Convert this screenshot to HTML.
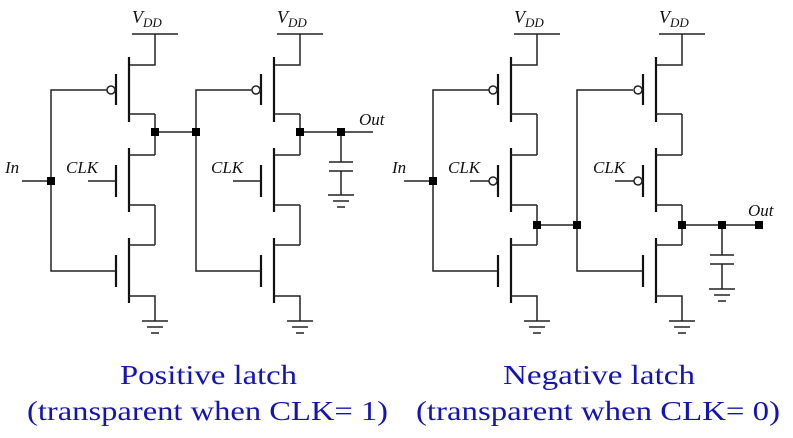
<!DOCTYPE html>
<html><head><meta charset="utf-8"><style>
html,body{margin:0;padding:0;background:#fff;}
svg{display:block;}
.w{stroke:#222;stroke-width:1.5;fill:none;}
.c{stroke:#111;stroke-width:2.2;fill:none;}
.lbl{font-family:"Liberation Serif",serif;font-style:italic;fill:#111;}
.cap{font-family:"Liberation Serif",serif;fill:#1414b4;font-size:27px;}
</style></head><body>
<svg width="793" height="438" viewBox="0 0 793 438" xmlns="http://www.w3.org/2000/svg">
<defs>
  <g id="top">
    <line class="w" x1="-23" y1="34" x2="23" y2="34"/>
    <polyline class="w" points="0,34 0,65 -26,65"/>
    <line class="c" x1="-26" y1="57" x2="-26" y2="122"/>
    <polyline class="w" points="-26,114 0,114"/>
    <line class="c" x1="-39" y1="74" x2="-39" y2="105"/>
    <circle class="w" cx="-44" cy="90" r="4" fill="#fff"/>
    <line class="c" x1="-26" y1="148" x2="-26" y2="212"/>
    <line class="w" x1="-26" y1="155" x2="0" y2="155"/>
    <line class="w" x1="-26" y1="205" x2="0" y2="205"/>
    <line class="c" x1="-39" y1="165" x2="-39" y2="197"/>
    <line class="c" x1="-26" y1="238" x2="-26" y2="303"/>
    <line class="w" x1="-26" y1="245" x2="0" y2="245"/>
    <polyline class="w" points="-26,296 0,296 0,321"/>
    <line class="c" x1="-39" y1="255" x2="-39" y2="287"/>
    <line class="w" x1="-13" y1="321" x2="13" y2="321"/>
    <line class="w" x1="-8" y1="327" x2="8" y2="327"/>
    <line class="w" x1="-4" y1="333" x2="4" y2="333"/>
  </g>
  <g id="posStage">
    <use href="#top"/>
    <line class="w" x1="0" y1="114" x2="0" y2="155"/>
    <line class="w" x1="0" y1="205" x2="0" y2="245"/>
    <line class="w" x1="-67" y1="181" x2="-39" y2="181"/>
  </g>
  <g id="negStage">
    <use href="#top"/>
    <line class="w" x1="0" y1="114" x2="0" y2="155"/>
    <line class="w" x1="0" y1="205" x2="0" y2="245"/>
    <line class="w" x1="-67" y1="181" x2="-48" y2="181"/>
    <circle class="w" cx="-44" cy="181" r="4" fill="#fff"/>
  </g>
  <g id="gnd">
    <line class="w" x1="-13" y1="0" x2="13" y2="0"/>
    <line class="w" x1="-8" y1="6" x2="8" y2="6"/>
    <line class="w" x1="-4" y1="12" x2="4" y2="12"/>
  </g>
</defs>

<use href="#posStage" x="155"/>
<use href="#posStage" x="300"/>
<line class="w" x1="22" y1="181" x2="51" y2="181"/>
<polyline class="w" points="107,90 51,90 51,271 116,271"/>
<line class="w" x1="155" y1="132" x2="196" y2="132"/>
<polyline class="w" points="252,90 196,90 196,271 261,271"/>
<line class="w" x1="300" y1="132" x2="373" y2="132"/>
<line class="w" x1="341" y1="132" x2="341" y2="162"/>
<line class="w" x1="329" y1="162" x2="353" y2="162"/>
<line class="w" x1="329" y1="171" x2="353" y2="171"/>
<line class="w" x1="341" y1="171" x2="341" y2="195"/>
<use href="#gnd" x="341" y="195"/>
<g fill="#000">
  <rect x="47" y="177" width="8" height="8"/>
  <rect x="151" y="128" width="8" height="8"/>
  <rect x="192" y="128" width="8" height="8"/>
  <rect x="296" y="128" width="8" height="8"/>
  <rect x="337" y="128" width="8" height="8"/>
</g>
<text class="lbl" x="132" y="23" font-size="18">V<tspan font-size="13" dy="4">DD</tspan></text>
<text class="lbl" x="277" y="23" font-size="18">V<tspan font-size="13" dy="4">DD</tspan></text>
<text class="lbl" x="5" y="173" font-size="17">In</text>
<text class="lbl" x="66" y="173" font-size="17">CLK</text>
<text class="lbl" x="211" y="173" font-size="17">CLK</text>
<text class="lbl" x="359" y="125" font-size="17">Out</text>

<use href="#negStage" x="537"/>
<use href="#negStage" x="682"/>
<line class="w" x1="404" y1="181" x2="433" y2="181"/>
<polyline class="w" points="489,90 433,90 433,271 498,271"/>
<line class="w" x1="537" y1="225" x2="577" y2="225"/>
<polyline class="w" points="633,90 577,90 577,271 643,271"/>
<line class="w" x1="682" y1="225" x2="759" y2="225"/>
<line class="w" x1="722" y1="225" x2="722" y2="255"/>
<line class="w" x1="710" y1="255" x2="734" y2="255"/>
<line class="w" x1="710" y1="264" x2="734" y2="264"/>
<line class="w" x1="722" y1="264" x2="722" y2="289"/>
<use href="#gnd" x="722" y="289"/>
<g fill="#000">
  <rect x="429" y="177" width="8" height="8"/>
  <rect x="533" y="221" width="8" height="8"/>
  <rect x="573" y="221" width="8" height="8"/>
  <rect x="678" y="221" width="8" height="8"/>
  <rect x="718" y="221" width="8" height="8"/>
  <rect x="755" y="221" width="8" height="8"/>
</g>
<text class="lbl" x="514" y="23" font-size="18">V<tspan font-size="13" dy="4">DD</tspan></text>
<text class="lbl" x="659" y="23" font-size="18">V<tspan font-size="13" dy="4">DD</tspan></text>
<text class="lbl" x="392" y="173" font-size="17">In</text>
<text class="lbl" x="448" y="173" font-size="17">CLK</text>
<text class="lbl" x="593" y="173" font-size="17">CLK</text>
<text class="lbl" x="748" y="216" font-size="17">Out</text>

<text class="cap" x="120" y="384" textLength="177" lengthAdjust="spacingAndGlyphs">Positive latch</text>
<text class="cap" x="27" y="420" textLength="361" lengthAdjust="spacingAndGlyphs">(transparent when CLK= 1)</text>
<text class="cap" x="503" y="384" textLength="192" lengthAdjust="spacingAndGlyphs">Negative latch</text>
<text class="cap" x="416" y="420" textLength="364" lengthAdjust="spacingAndGlyphs">(transparent when CLK= 0)</text>
</svg>
</body></html>
